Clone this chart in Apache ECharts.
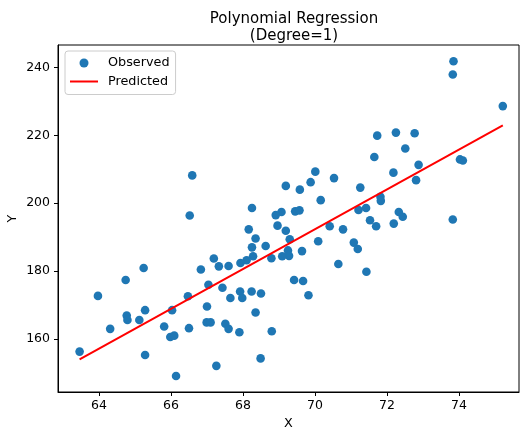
<!DOCTYPE html>
<html>
<head>
<meta charset="utf-8">
<script src="https://cdn.jsdelivr.net/npm/echarts@6/dist/echarts.min.js"></script>
<style>
  html, body { margin: 0; padding: 0; background: #fff; }
  #chart { width: 520px; height: 430px; }
</style>
</head>
<body>
<div id="chart"></div>
<script>
// observed points
const obsX = [66.59, 66.52, 69.19, 68.25, 69.07, 68.91, 68.96, 68.16, 73.85, 73.83,
  75.22, 71.73, 72.25, 72.77, 72.51, 71.65, 74.03, 74.11, 72.88, 72.18,
  72.81, 70.01, 69.88, 69.58, 70.53, 71.26, 70.16, 71.82, 71.83, 69.45,
  69.57, 71.21, 71.42, 71.53, 72.33, 72.44, 72.19, 71.70, 73.83, 70.41,
  70.78, 69.19, 69.30, 70.09, 71.08, 71.19, 69.25, 69.28, 69.64, 70.65,
  71.43, 69.42, 69.67, 69.82, 68.35, 68.25, 68.63, 68.28, 68.10, 67.93,
  68.79, 69.09, 67.19, 67.33, 67.60, 66.83, 67.04, 67.43, 67.92, 67.98,
  68.24, 68.50, 67.65, 66.47, 63.97, 64.74, 65.24, 67.00, 68.35, 66.03,
  65.28, 64.77, 64.79, 65.12, 64.31, 65.81, 66.99, 67.10, 67.51, 67.60,
  66.50, 67.90, 68.80, 65.98, 66.09, 63.46, 65.28, 68.49, 67.26, 66.14];
const obsY = [208.2, 196.4, 205.1, 198.6, 197.4, 196.5, 193.4, 192.3, 241.8, 237.9,
  228.6, 219.9, 220.8, 220.6, 216.1, 213.6, 212.9, 212.6, 211.3, 209.0,
  206.8, 209.3, 206.2, 204.0, 207.4, 204.6, 200.9, 201.9, 200.7, 197.6,
  197.9, 198.0, 198.6, 195.0, 197.4, 196.0, 194.0, 193.2, 195.2, 193.2,
  192.3, 191.9, 189.4, 188.8, 188.4, 186.5, 186.1, 184.5, 185.9, 182.1,
  179.8, 177.4, 177.1, 172.9, 189.6, 187.0, 187.4, 184.4, 183.2, 182.4,
  183.8, 184.4, 183.7, 181.4, 181.5, 180.5, 176.0, 175.1, 174.0, 172.1,
  174.0, 173.4, 172.1, 172.6, 172.7, 177.4, 180.9, 169.6, 167.8, 168.5,
  168.5, 166.9, 165.6, 165.6, 163.0, 163.7, 164.9, 164.9, 164.5, 163.0,
  163.2, 162.0, 162.3, 160.6, 161.0, 156.3, 155.3, 154.3, 152.1, 149.1];

// fitted line (degree 1), ends at the smallest and largest x
const fitX = [63.46, 75.22];
const fitY = [154.0, 222.9];

const xTicks = [64, 66, 68, 70, 72, 74];
const yTicks = [160, 180, 200, 220, 240];

const FONT = 'DejaVu Sans';

const chart = echarts.init(document.getElementById('chart'), null, { renderer: 'canvas' });

chart.setOption({
  backgroundColor: '#fff',
  animation: false,
  title: {
    text: 'Polynomial Regression\n(Degree=1)',
    left: 289,
    top: 6,
    textAlign: 'center',
    textStyle: { fontFamily: FONT, fontSize: 15, fontWeight: 'normal', color: '#000', lineHeight: 17 }
  },
  legend: {
    orient: 'vertical',
    left: 65,
    top: 51,
    padding: [5, 6, 6, 5],
    itemWidth: 28,
    itemHeight: 9,
    itemGap: 4.5,
    borderColor: '#ccc',
    borderWidth: 1,
    borderRadius: 3,
    backgroundColor: 'rgba(255,255,255,0.8)',
    textStyle: { fontFamily: FONT, fontSize: 12.8, color: '#000', lineHeight: 14, padding: [0, 0, 0, 5] },
    data: [
      { name: 'Observed', icon: 'circle' },
      { name: 'Predicted', icon: 'path://M0,0H28V2H0Z' }
    ]
  },
  grid: {
    left: 58, right: 1, top: 45, bottom: 38,
    outerBoundsMode: 'none',
    containLabel: false,
    show: true, borderColor: '#000', borderWidth: 1, backgroundColor: 'transparent'
  },
  xAxis: {
    type: 'value',
    min: 62.86,
    max: 75.67,
    name: 'X',
    nameLocation: 'middle',
    nameGap: 25,
    nameMoveOverlap: false,
    nameTextStyle: { fontFamily: FONT, fontSize: 12.8, color: '#000' },
    axisLine: { show: true, lineStyle: { color: '#000', width: 1 } },
    axisTick: { show: true, length: 4, customValues: xTicks, lineStyle: { color: '#000' } },
    axisLabel: { customValues: xTicks, margin: 7, fontFamily: FONT, fontSize: 12.5, color: '#000' },
    splitLine: { show: false }
  },
  yAxis: {
    type: 'value',
    min: 144.4,
    max: 246.6,
    name: 'Y',
    nameLocation: 'middle',
    nameRotate: 90,
    nameGap: 39,
    nameMoveOverlap: false,
    nameTextStyle: { fontFamily: FONT, fontSize: 12.8, color: '#000' },
    axisLine: { show: true, lineStyle: { color: '#000', width: 1 } },
    axisTick: { show: true, length: 4, customValues: yTicks, lineStyle: { color: '#000' } },
    axisLabel: { customValues: yTicks, margin: 8, fontFamily: FONT, fontSize: 12.5, color: '#000' },
    splitLine: { show: false }
  },
  series: [
    {
      name: 'Observed',
      type: 'scatter',
      symbol: 'circle',
      symbolSize: 8.6,
      itemStyle: { color: '#1f77b4', opacity: 1 },
      data: obsX.map((x, i) => [x, obsY[i]])
    },
    {
      name: 'Predicted',
      type: 'line',
      symbol: 'none',
      lineStyle: { color: '#ff0000', width: 2 },
      itemStyle: { color: '#ff0000' },
      data: fitX.map((x, i) => [x, fitY[i]])
    }
  ]
});
</script>
</body>
</html>
